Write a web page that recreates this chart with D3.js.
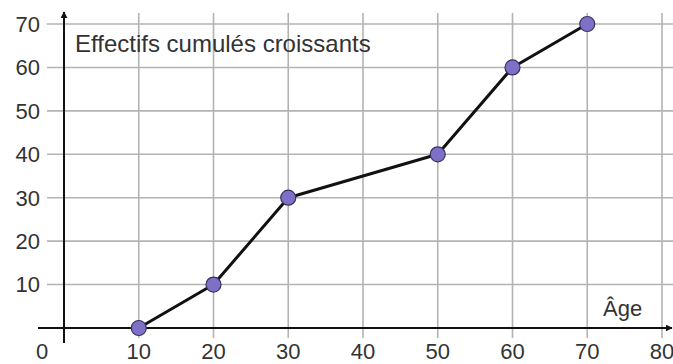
<!DOCTYPE html>
<html>
<head>
<meta charset="utf-8">
<script src="https://cdn.jsdelivr.net/npm/d3@7"></script>
<style>
  body { margin: 0; background: #fff; overflow: hidden; }
  text { font-family: "Liberation Sans", Arial, sans-serif; fill: #333; }
</style>
</head>
<body>
<div id="vis"></div>
<script>
// data
const ages = [10, 20, 30, 50, 60, 70]
const cumul = [0, 10, 30, 40, 60, 70]
const xTicks = [10, 20, 30, 40, 50, 60, 70, 80]
const yTicks = [10, 20, 30, 40, 50, 60, 70]

const width = 673
const height = 364

const svg = d3.select("#vis")
    .append("svg")
    .attr("width", width)
    .attr("height", height)
    .style("display", "block")

//scales, origin at the axes crossing
const x = d3.scaleLinear().domain([0, 80]).range([64, 662])
const y = d3.scaleLinear().domain([0, 70]).range([328, 24])

const gridColor = "#b3b3b3"

//vertical grid lines
svg.append("g")
    .selectAll("line")
    .data(xTicks)
    .enter()
    .append("line")
    .attr("x1", d => x(d))
    .attr("x2", d => x(d))
    .attr("y1", 13)
    .attr("y2", 338)
    .attr("stroke", gridColor)
    .attr("stroke-width", 1.6)

//horizontal grid lines
svg.append("g")
    .selectAll("line")
    .data(yTicks)
    .enter()
    .append("line")
    .attr("x1", 47)
    .attr("x2", width)
    .attr("y1", d => y(d))
    .attr("y2", d => y(d))
    .attr("stroke", gridColor)
    .attr("stroke-width", 1.6)

//arrow head
svg.append("defs").append("marker")
    .attr("id", "arrow")
    .attr("viewBox", "0 0 10 10")
    .attr("refX", 9)
    .attr("refY", 5)
    .attr("markerWidth", 7)
    .attr("markerHeight", 7)
    .attr("markerUnits", "userSpaceOnUse")
    .attr("orient", "auto")
    .append("path")
    .attr("d", "M0,0 L10,5 L0,10 z")
    .attr("fill", "#111")

//x axis
svg.append("line")
    .attr("x1", 38).attr("x2", 672)
    .attr("y1", y(0)).attr("y2", y(0))
    .attr("stroke", "#111")
    .attr("stroke-width", 2)
    .attr("marker-end", "url(#arrow)")

//y axis
svg.append("line")
    .attr("x1", x(0)).attr("x2", x(0))
    .attr("y1", 343).attr("y2", 12)
    .attr("stroke", "#111")
    .attr("stroke-width", 2)
    .attr("marker-end", "url(#arrow)")

//tick labels
svg.append("g")
    .selectAll("text")
    .data(xTicks)
    .enter()
    .append("text")
    .attr("x", d => x(d))
    .attr("y", 359)
    .attr("text-anchor", "middle")
    .attr("font-size", 22)
    .text(d => d)

svg.append("text")
    .attr("x", 42)
    .attr("y", 359)
    .attr("text-anchor", "middle")
    .attr("font-size", 22)
    .text("0")

svg.append("g")
    .selectAll("text")
    .data(yTicks)
    .enter()
    .append("text")
    .attr("x", 40)
    .attr("y", d => y(d))
    .attr("dy", "0.36em")
    .attr("text-anchor", "end")
    .attr("font-size", 22)
    .text(d => d)

//axis titles
svg.append("text")
    .attr("x", 75)
    .attr("y", 52)
    .attr("font-size", 24)
    .text("Effectifs cumulés croissants")

svg.append("text")
    .attr("x", 603)
    .attr("y", 316)
    .attr("font-size", 22)
    .text("Âge")

//polygon line
const points = ages.map((a, i) => [a, cumul[i]])

const line = d3.line()
    .x(d => x(d[0]))
    .y(d => y(d[1]))

svg.append("path")
    .datum(points)
    .attr("d", line)
    .attr("fill", "none")
    .attr("stroke", "#111")
    .attr("stroke-width", 3)
    .attr("stroke-linejoin", "round")

//points
svg.append("g")
    .selectAll("circle")
    .data(points)
    .enter()
    .append("circle")
    .attr("cx", d => x(d[0]))
    .attr("cy", d => y(d[1]))
    .attr("r", 7.5)
    .attr("fill", "#7d70c6")
    .attr("stroke", "#3a3160")
    .attr("stroke-width", 1.2)
</script>
</body>
</html>
